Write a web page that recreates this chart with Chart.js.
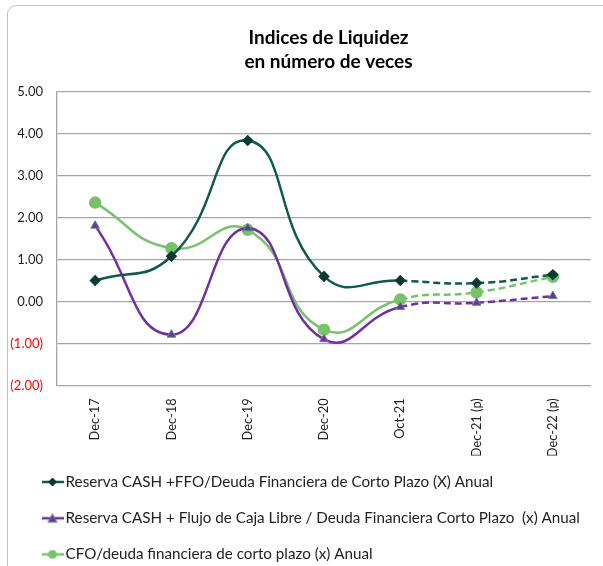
<!DOCTYPE html>
<html>
<head>
<meta charset="utf-8">
<script src="https://cdn.jsdelivr.net/npm/chart.js@4.4.1/dist/chart.umd.min.js"></script>
<style>
  html, body { margin: 0; padding: 0; background: #fff; overflow: hidden; }
  #frame { position: absolute; left: 7px; top: 5px; width: 700px; height: 700px; border: 1px solid #bfbfbf; border-radius: 9px; }
  #wrap { position: absolute; left: 0; top: 0; width: 603px; height: 574px; }
</style>
</head>
<body>
<div id="frame"></div>
<div id="wrap"><canvas id="graph1" width="603" height="574"></canvas></div>
<script>
// categorias y valores (en numero de veces)
const periods = ["Dec-17", "Dec-18", "Dec-19", "Dec-20", "Oct-21", "Dec-21 (p)", "Dec-22 (p)"];
const reservaFfo = [0.50, 1.08, 3.84, 0.60, 0.50, 0.44, 0.64];
const reservaFcl = [1.81, -0.79, 1.75, -0.90, -0.13, -0.03, 0.13];
const cfoDeuda = [2.36, 1.27, 1.71, -0.67, 0.05, 0.22, 0.59];
const seriesNames = [
  "Reserva CASH +FFO/Deuda Financiera de Corto Plazo (X) Anual",
  "Reserva CASH + Flujo de Caja Libre / Deuda Financiera Corto Plazo  (x) Anual",
  "CFO/deuda financiera de corto plazo (x) Anual"
];
const firstProjected = 4; // desde Oct-21 la linea es punteada

Chart.defaults.font.family = "Lato, 'Open Sans', sans-serif";

function legendIcon(color, marker, fill, border) {
  const c = document.createElement("canvas");
  c.width = 22; c.height = 12;
  const g = c.getContext("2d");
  g.strokeStyle = color; g.lineWidth = 2.5;
  g.beginPath(); g.moveTo(0, 6); g.lineTo(22, 6); g.stroke();
  g.fillStyle = fill; g.strokeStyle = border; g.lineWidth = 1;
  g.beginPath();
  if (marker == "diamond") { g.moveTo(11, 2); g.lineTo(15, 6); g.lineTo(11, 10); g.lineTo(7, 6); }
  else if (marker == "triangle") { g.moveTo(11, 1.5); g.lineTo(15.5, 10); g.lineTo(6.5, 10); }
  else { g.arc(11, 6, 4, 0, Math.PI * 2); }
  g.closePath(); g.fill(); g.stroke();
  return c;
}

const icons = [
  legendIcon("#0e5a4b", "diamond", "#0b3a33", "#0b3a33"),
  legendIcon("#7030a0", "triangle", "#7030a0", "#5f8f7c"),
  legendIcon("#77c26a", "circle", "#77c26a", "#77c26a")
];

const dashAfter = ctx => ctx.p0DataIndex >= firstProjected ? [7, 4] : undefined;

// titulo centrado sobre el area del grafico, leyenda algo mas a la derecha
const nudgeBoxes = {
  id: "nudgeBoxes",
  afterLayout(chart) {
    if (chart.titleBlock) { chart.titleBlock.left += 33; chart.titleBlock.right += 33; }
    if (chart.legend) { chart.legend.left += 26; chart.legend.top -= 2; }
  }
};

const ctx = document.getElementById("graph1");

new Chart(ctx, {
  type: "line",
  data: {
    labels: periods,
    datasets: [{
      label: seriesNames[0],
      data: reservaFfo,
      borderColor: "#0e5a4b",
      backgroundColor: "#0b3a33",
      pointBorderColor: "#0b3a33",
      pointStyle: "rectRot",
      pointRadius: 4,
      borderWidth: 2.5,
      tension: 0.5,
      segment: { borderDash: dashAfter }
    }, {
      label: seriesNames[1],
      data: reservaFcl,
      borderColor: "#7030a0",
      backgroundColor: "#7030a0",
      pointBorderColor: "#5f8f7c",
      pointStyle: "triangle",
      pointRadius: 5,
      pointBorderWidth: 1,
      borderWidth: 2.5,
      tension: 0.5,
      segment: { borderDash: dashAfter }
    }, {
      label: seriesNames[2],
      data: cfoDeuda,
      borderColor: "#77c26a",
      backgroundColor: "#77c26a",
      pointBorderColor: "#77c26a",
      pointStyle: "circle",
      pointRadius: 5,
      borderWidth: 2.5,
      tension: 0.5,
      segment: { borderDash: dashAfter }
    }]
  },
  options: {
    responsive: false,
    animation: false,
    devicePixelRatio: 1,
    layout: { padding: { left: 0, right: 12, top: 5, bottom: 0 } },
    plugins: {
      title: {
        display: true,
        text: ["Indices de Liquidez", "en número de veces"],
        color: "#000",
        font: { size: 19, weight: "bold", lineHeight: 1.26 },
        padding: { top: 21, bottom: 18 }
      },
      legend: {
        position: "bottom",
        align: "start",
        labels: {
          usePointStyle: true,
          pointStyleWidth: 11,
          padding: 21,
          color: "#222",
          font: { size: 15.2 },
          generateLabels(chart) {
            const items = Chart.defaults.plugins.legend.labels.generateLabels(chart);
            items.forEach((it, i) => { it.pointStyle = icons[i]; });
            return items;
          }
        }
      },
      tooltip: { enabled: false }
    },
    scales: {
      x: {
        offset: true,
        grid: { display: false },
        border: { display: false },
        ticks: {
          maxRotation: 90,
          minRotation: 90,
          padding: 5,
          color: "#222",
          font: { size: 12.8 }
        },
        afterFit(scale) { scale.height = 70; }
      },
      y: {
        min: -2,
        max: 5,
        grid: { color: "#a6a6a6", lineWidth: 1.3, drawTicks: false },
        border: { display: true, color: "#a6a6a6", width: 1.3 },
        ticks: {
          stepSize: 1,
          padding: 14,
          font: { size: 13 },
          color: c => c.tick.value < 0 ? "#ff0000" : "#222",
          callback: v => v < 0 ? "(" + Math.abs(v).toFixed(2) + ")" : v.toFixed(2)
        },
        afterFit(scale) { scale.width = 57; }
      }
    }
  },
  plugins: [nudgeBoxes]
});
</script>
</body>
</html>
